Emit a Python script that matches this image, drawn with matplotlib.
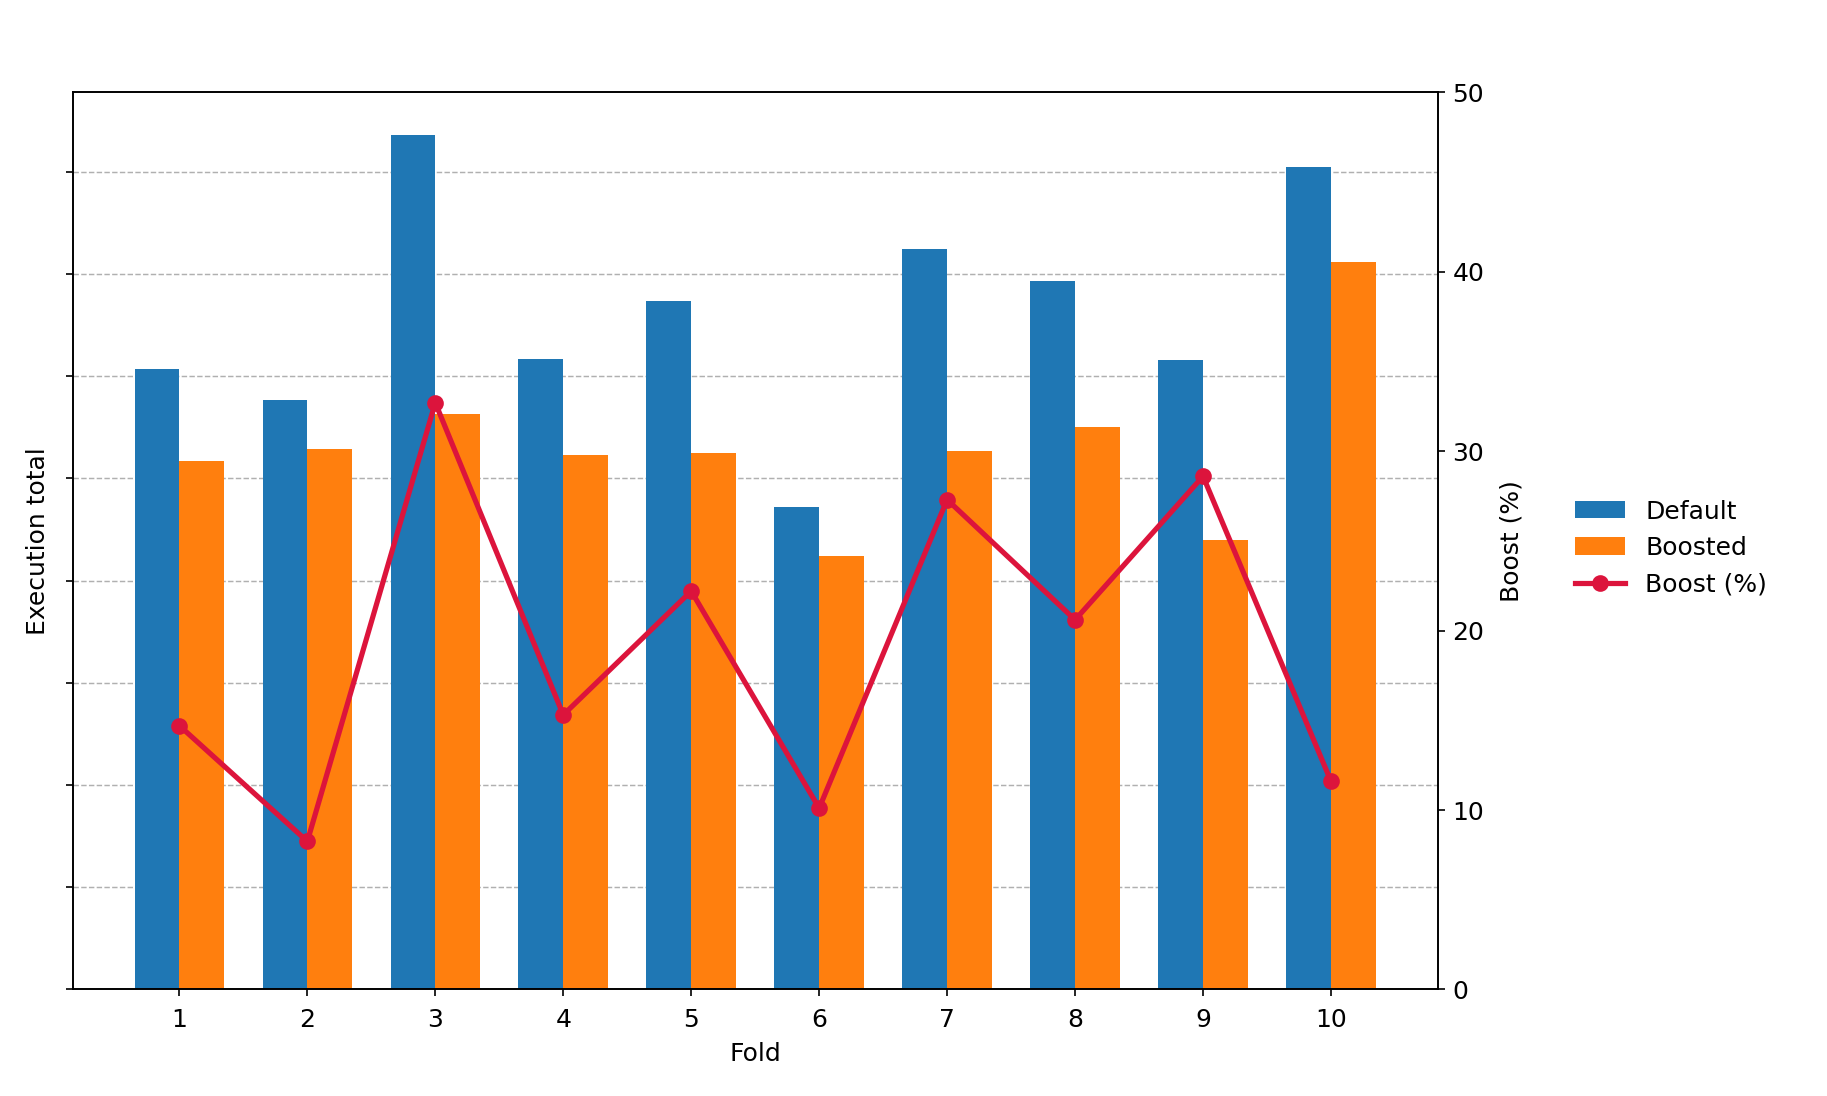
import numpy as np
import matplotlib
matplotlib.use("Agg")
import matplotlib.pyplot as plt

plt.rcParams.update({"font.size": 12})

# data (left axis has no tick labels -> arbitrary units)
folds = [1, 2, 3, 4, 5, 6, 7, 8, 9, 10]
default_total = [6.07, 5.77, 8.36, 6.17, 6.74, 4.72, 7.25, 6.93, 6.16, 8.05]
boosted_total = [5.17, 5.29, 5.63, 5.23, 5.25, 4.24, 5.27, 5.50, 4.40, 7.12]
boost_pct = [14.7, 8.25, 32.7, 15.3, 22.2, 10.1, 27.3, 20.6, 28.6, 11.6]

fig = plt.figure(figsize=(12.18, 7.307), dpi=150)
ax = fig.add_axes([0.0397, 0.0973, 0.7473, 0.8183])

x = np.arange(len(folds))
width = 0.35
b1 = ax.bar(x - width / 2, default_total, width, color="#1f77b4", label="Default")
b2 = ax.bar(x + width / 2, boosted_total, width, color="#ff7f0e", label="Boosted")

ax.set_axisbelow(True)
ax.grid(axis="y", linestyle="--", color="#b0b0b0", linewidth=0.7)
ax.set_yticks(np.arange(0, 9))
ax.set_yticklabels([])
ax.set_xticks(x)
ax.set_xticklabels(folds)
ax.tick_params(axis="x", pad=5.5)
ax.set_xlabel("Fold", labelpad=4.5)
ax.set_ylabel("Execution total")

ax2 = ax.twinx()
ln, = ax2.plot(x, boost_pct, color="crimson", marker="o", linewidth=2.5,
               markersize=7, label="Boost (%)")
ax2.set_ylim(0, 50)
ax2.set_ylabel("Boost (%)", labelpad=7.5)

fig.legend([b1, b2, ln], ["Default", "Boosted", "Boost (%)"],
           loc="center left", bbox_to_anchor=(0.85, 0.5), frameon=False)

fig.savefig("out.png", dpi=150)
